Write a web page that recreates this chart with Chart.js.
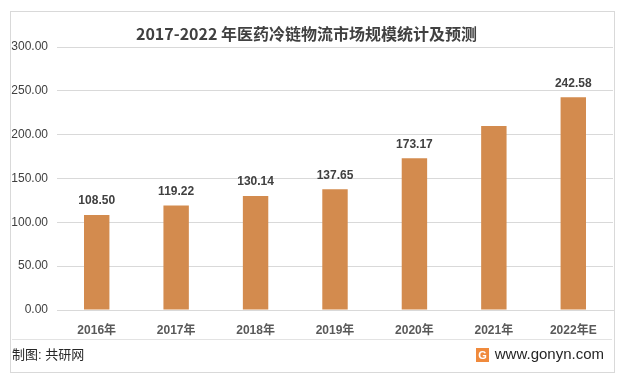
<!DOCTYPE html>
<html>
<head>
<meta charset="utf-8">
<script src="https://cdn.jsdelivr.net/npm/chart.js@4"></script>
<style>
  html, body { margin: 0; padding: 0; background: #fff; }
  canvas { display: block; }
</style>
</head>
<body>
<canvas id="marketChart" width="625" height="376"></canvas>
<script>
const years = ['2016年', '2017年', '2018年', '2019年', '2020年', '2021年', '2022年E'];
const marketSize = [108.50, 119.22, 130.14, 137.65, 173.17, 210.00, 242.58];
// the 2021 bar carries no label in the original
const showLabel = [true, true, true, true, true, false, true];

const FONT = '"Liberation Sans", "Noto Sans CJK SC", sans-serif';
const CJK = '"Noto Sans CJK SC", "Liberation Sans", sans-serif';

const frame = {
    id: 'frame',
    beforeDraw(chart) {
        const c = chart.ctx;
        c.save();
        c.fillStyle = '#fff';
        c.fillRect(0, 0, chart.width, chart.height);
        c.strokeStyle = '#d9d9d9';
        c.lineWidth = 1;
        c.strokeRect(10.5, 11.5, 604, 361);
        c.restore();
    },
    afterDraw(chart) {
        const c = chart.ctx;
        c.save();
        // separator above footer
        c.strokeStyle = '#e3e3e3';
        c.beginPath();
        c.moveTo(12, 339.5);
        c.lineTo(612, 339.5);
        c.stroke();

        c.fillStyle = '#262626';
        c.textBaseline = 'middle';
        c.font = '13px ' + FONT;
        c.textAlign = 'left';
        c.fillText('制图: 共研网', 12, 355);

        c.font = '15px ' + FONT;
        c.textAlign = 'right';
        c.fillText('www.gonyn.com', 604, 355);

        // small logo
        c.fillStyle = '#f08a3c';
        c.fillRect(476, 348, 13, 14);
        c.fillStyle = '#fff';
        c.font = 'bold 11px ' + FONT;
        c.textAlign = 'center';
        c.fillText('G', 482.5, 355.5);

        // value labels above bars
        const meta = chart.getDatasetMeta(0);
        c.fillStyle = '#404040';
        c.font = 'bold 12px ' + FONT;
        c.textBaseline = 'bottom';
        meta.data.forEach((bar, i) => {
            if (!showLabel[i]) return;
            c.fillText(marketSize[i].toFixed(2), bar.x, bar.y - 8);
        });
        c.restore();
    }
};

new Chart(document.getElementById('marketChart').getContext('2d'), {
    type: 'bar',
    data: {
        labels: years,
        datasets: [{
            label: '市场规模',
            data: marketSize,
            backgroundColor: '#d38b4e',
            barPercentage: 0.32,
            categoryPercentage: 1
        }]
    },
    options: {
        responsive: false,
        animation: false,
        layout: { padding: { left: 0, right: 12, top: 0, bottom: 37 } },
        plugins: {
            legend: { display: false },
            tooltip: { enabled: false },
            title: {
                display: true,
                text: '2017-2022 年医药冷链物流市场规模统计及预测',
                color: '#404040',
                font: { family: CJK, size: 16, weight: 'bold', lineHeight: 1.25 },
                padding: { top: 24, bottom: 3 }
            }
        },
        scales: {
            x: {
                grid: { display: false },
                border: { color: '#d9d9d9' },
                ticks: {
                    color: '#595959',
                    font: { family: FONT, size: 12, weight: 'bold' },
                    padding: 5
                },
                afterFit(s) { s.height = 29; }
            },
            y: {
                min: 0,
                max: 300,
                ticks: {
                    stepSize: 50,
                    color: '#404040',
                    font: { family: FONT, size: 12 },
                    padding: 9,
                    callback: v => v.toFixed(2)
                },
                grid: { color: '#d9d9d9', drawTicks: false },
                border: { display: false },
                afterFit(s) { s.width = 57; }
            }
        }
    },
    plugins: [frame]
});
</script>
</body>
</html>
